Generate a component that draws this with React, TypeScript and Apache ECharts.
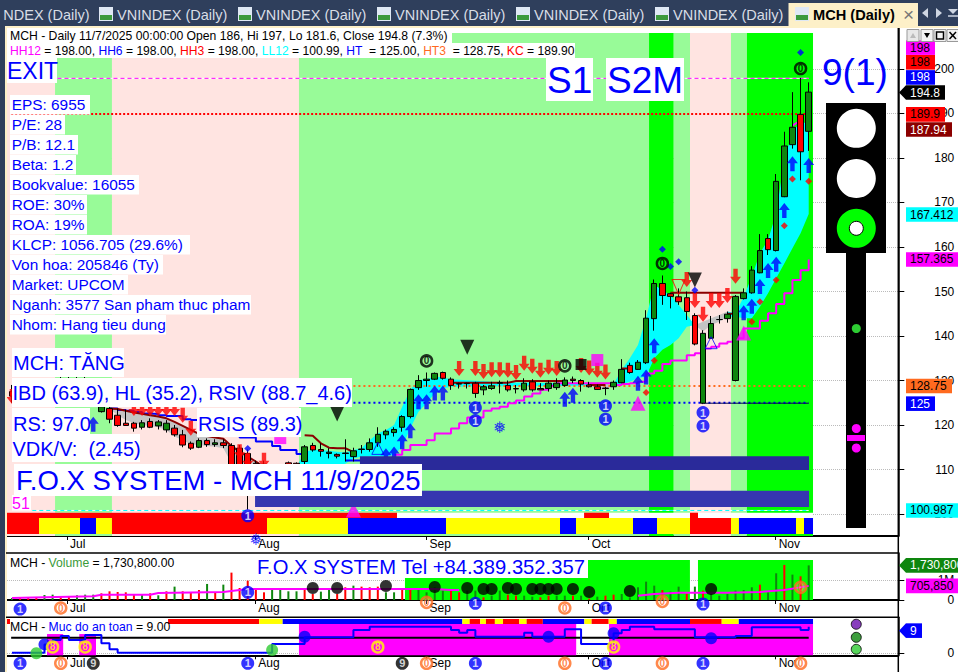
import React, { useEffect, useRef } from "react";
import * as echarts from "echarts";

const FONT = '"Liberation Sans", Arial, sans-serif';
const LIME = "#00ff00", PALE = "#98fb98", PINK = "#ffe4e1", RED = "#ff0000", BLUE = "#0000ff", YEL = "#ffff00", MAG = "#ff00ff";
const CYAN = "#00ffff", GREEN = "#0e860e", BROWN = "#8b0000", ORANGE = "#ff6a1f";

const X_MIN = -0.61, X_MAX = 109.02, LAST = 98.53;
const monthTicks = [6.77, 29.93, 51, 70.94, 93.94];
const monthLabels = ["Jul", "Aug", "Sep", "Oct", "Nov"];
const priceTicks = [100, 110, 120, 130, 140, 150, 160, 170, 180, 190, 200];

// open, close, low, high
const candles: number[][] = [
  [127.5, 126.5, 125, 129], [127, 128, 126, 129.5], [128, 127, 125.5, 129.5], [127, 128.2, 126, 130], [128, 127.5, 126, 130],
  [127.5, 128.5, 126.5, 130.5], [128.5, 127.8, 126.5, 131], [127.8, 128.5, 127, 131], [128.5, 127.5, 126, 130.8], [127.5, 128, 126, 131],
  [126, 127, 124.5, 129], [123, 124.1, 122.8, 126], [123.7, 121.3, 120.4, 124.5], [122.2, 119.9, 119.6, 123.7], [120.4, 119.9, 119.8, 123.4],
  [120.4, 119.3, 118.5, 120.7], [119.5, 120.5, 119, 121.1], [120.8, 119.5, 119.3, 121.5], [119.8, 120.7, 119, 121.1], [118.9, 120.4, 118.3, 121.1],
  [119.3, 117.8, 117.4, 120], [117.8, 115.5, 115, 118.9], [115.9, 114.8, 114.4, 116.3], [115, 116.5, 114.8, 117], [116.5, 115.6, 115.1, 117],
  [115.6, 116, 115.1, 116.8], [116, 115.4, 114.8, 116.8], [115.4, 110.9, 109.8, 115.9], [114.8, 109.5, 108.5, 115.5], [113.6, 106.9, 100.99, 114.5],
  [111.4, 109.1, 108, 112], [111.2, 108.4, 107.5, 112], [108.4, 110.3, 107.5, 111], [110.6, 109.1, 108.5, 111], [111.5, 110.3, 109.5, 111.8],
  [111.4, 110.6, 109, 111.6], [111.8, 115.1, 111.2, 115.5], [115.4, 114.4, 114, 116], [114.5, 114.1, 112.9, 115.9], [113.6, 113.9, 112.5, 114.8],
  [113.4, 113, 112.5, 113.6], [113.7, 113.6, 111.8, 116.8], [112.9, 114.2, 111.8, 114.9], [114.5, 114.6, 113.6, 115.5], [114.5, 116, 114, 117],
  [116, 117.9, 115.1, 119.5], [117.8, 118.6, 116.8, 119], [118.3, 119, 117.4, 119.5], [119.5, 121.9, 118.5, 122.2], [121.9, 128, 121.5, 128.2],
  [128.4, 130, 127.9, 131.2], [130, 130.3, 128.6, 131.8], [130.3, 131.6, 130.1, 131.8], [131.8, 130.5, 130.2, 132], [130.3, 128.9, 127.9, 130.7],
  [129.3, 129.2, 128.2, 129.5], [129.4, 129.3, 128.2, 129.5], [129.4, 127.1, 126.1, 129.7], [127.9, 128.6, 126.7, 129], [128.2, 128.8, 127.9, 129.7],
  [129.4, 129.5, 127.1, 130], [128.9, 127.9, 127.5, 130], [128.2, 128.1, 127.1, 129], [127.9, 129.4, 127.5, 130.5], [129.7, 127.9, 127.5, 130.3],
  [128.2, 127.9, 127.9, 129.4], [128.2, 129.4, 127.5, 130], [128.4, 129.4, 127.9, 130.5], [128.9, 130.1, 128.6, 130.7], [130.3, 130, 129.4, 130.9],
  [130, 129.2, 127.5, 130.3], [129, 128.6, 128.4, 129.7], [128.6, 128, 127.9, 129.1], [128.3, 128.2, 126.7, 128.6], [128.6, 129.6, 127.9, 130],
  [129.5, 132.5, 129.4, 134.8], [133.4, 131.8, 131.5, 134], [132.5, 134.1, 132.4, 134.6], [134, 144, 133.7, 145.8], [143.9, 151.8, 141.2, 152.7],
  [151.8, 149.1, 147, 153.6], [149.5, 148.9, 146.2, 149.7], [148.8, 147.7, 147, 150.7], [148.6, 145.5, 143.6, 150], [144.6, 138.2, 137.9, 145.1],
  [124.9, 140.6, 124.7, 141.3], [139.5, 142.8, 139.4, 144.5], [143.7, 143.7, 142.8, 144.7], [143.9, 144.9, 143, 145.5], [130, 148.9, 129.8, 149.2],
  [148.4, 149.7, 148.2, 150.7], [149.7, 154.8, 149.5, 155.7], [154.2, 159.2, 154.1, 162.9], [161.9, 159.4, 158.2, 162.9], [159.2, 174.75, 159, 176.4],
  [171.3, 182.7, 171.2, 185.9], [183, 186.9, 182.1, 194.8], [189.8, 181.4, 175, 198], [186, 194.8, 181.6, 197],
];

// start, end, colour of the price pane's background
const priceBands: [number, number, string][] = [
  [X_MIN, 5.3, PINK], [5.3, 12.3, PALE], [12.3, 35.3, PINK], [35.3, 78.36, PALE], [78.36, 81.4, LIME],
  [81.4, 83.4, PALE], [83.4, 88.44, PINK], [88.44, 90.4, PALE], [90.4, LAST, LIME],
];
const stateRow: [number, number, string][] = [
  [X_MIN, 3.33, RED], [3.33, 8.37, YEL], [8.37, 10.34, BLUE], [10.34, 12.3, YEL], [12.3, 31.37, RED], [31.37, 41.33, YEL], [41.33, 53.39, BLUE],
  [53.39, 67.41, YEL], [67.41, 69.38, BLUE], [69.38, 76.39, YEL], [76.39, 79.34, BLUE], [79.34, 83.4, YEL], [83.4, 88.44, RED], [88.44, 89.42, YEL],
  [89.42, 96.44, BLUE], [96.44, 97.42, YEL], [97.42, LAST, BLUE],
];
const redRow: [number, number][] = [[X_MIN, 47.36], [70.37, 73.44], [83.4, 84.38]];
const lowBars: [number, number, number, number, string][] = [
  [42.8, 98.04, 109.9, 113, "#2a2a9a"], [29.9, 98.04, 101.6, 105.2, "#3636b0"],
];

// i, upper, lower
const cloudCyan: number[][][] = [
  [[35, 110.5, 110.5], [36, 114, 110], [37, 114.4, 110.3], [38, 114.4, 110.5], [39, 114.2, 110.8], [40, 114, 111], [41, 113.8, 111.3], [42, 114.4, 112.5], [43, 114.8, 112.9], [44, 116.6, 112.9], [45, 118.1, 112.9], [46, 118.9, 112.9], [47, 120, 113.3], [48, 124.1, 115.1], [49, 127.9, 119.3], [50, 130.1, 123], [51, 130.3, 124.9], [52, 130.9, 127.1], [53, 130.7, 128.2], [54, 130.3, 128.6], [60, 129.6, 128.7], [71, 129.3, 128.8]],
  [[74, 129.2, 128.6], [75, 132.4, 129.1], [76, 135, 129.7], [77, 138, 130.5], [78, 144, 130.9], [79, 151.5, 135], [80, 150.3, 136.9], [81, 149.2, 138], [82, 147, 139.5], [83, 144.7, 142.1], [84, 142.5, 142.5]],
  [[88, 145.5, 144.3], [89, 145.1, 144.3], [90, 148.8, 144], [91, 153.3, 144], [92, 158.6, 146.6], [93, 161.6, 149.6], [94, 167.6, 152.95], [95, 179.5, 156.3], [96, 186, 159.7], [97, 187.9, 163.1], [98, 187.94, 167.4]],
];
const cloudGray: number[][][] = [
  [[12, 123.7, 123.7], [13, 123.6, 122.2], [14, 123.2, 121.1], [15, 122.8, 120.4], [16, 122.5, 120], [17, 122.2, 119.8], [18, 121.9, 119.5], [19, 121.5, 118.9], [20, 120.7, 117.4], [21, 119.8, 116.6], [22, 118.9, 115.7], [23, 118, 115.5], [24, 117.5, 115.3], [25, 117.2, 115.1], [26, 116.9, 114.8], [27, 115.3, 111.4], [28, 114, 110.3], [29, 112.9, 109.1], [30, 111.8, 108.4], [31, 110.6, 107.6], [32, 109.5, 106.9]],
  [[71, 129.3, 128.8], [72, 129, 128], [73, 129, 128.1], [74, 129.2, 128.6]],
  [[84, 142.5, 142.5], [85, 143.2, 141], [86, 144, 142.5], [87, 144.7, 143.2], [88, 145.5, 144.3]],
];
const stopSegments: number[][][] = [
  [[12, 123.7], [13, 123.6], [14, 123.2], [15, 122.8], [16, 122.5], [17, 122.2], [18, 121.9], [19, 121.5], [20, 120.7], [21, 119.8], [22, 118.9], [23, 118], [24, 117.5], [25, 117.2], [26, 116.9], [27, 115.3], [28, 114], [29, 112.9], [30, 111.8], [31, 110.6], [32, 109.5]],
  [[36, 117.7], [37, 117.6], [38, 115.9], [39, 114.9], [40, 114.8], [41, 114.8], [42, 113.9]],
  [[54, 129.5], [61, 129.5], [62, 129.9], [68, 129.9]],
  [[71, 129], [73, 129]], [[75, 132.7], [76, 132.7]], [[81, 149.7], [90, 149.7]], [[88, 145], [89, 145]],
];
const blueSegments: number[][][] = [
  [[12, 123.7], [13, 123.4], [14, 123.2], [15, 122.9], [16, 122.6], [17, 122.5], [18, 122.2], [19, 122], [20, 122], [21, 121.3], [22, 121.1], [27, 121.1], [28, 117.2], [29, 117.2], [30, 116.3], [31, 116.3], [32, 115.3], [33, 114.4], [34, 114.4], [35, 113.5], [36, 113.5]],
  [[41, 112], [43, 112]],
];
const riseLine: number[][] = [
  [47, 113.3], [48, 114.4], [49, 115.5], [50, 115.5], [51, 116.6], [52, 118.1], [53, 118.1], [54, 119.2], [55, 120.4], [56, 121.7], [57, 121.7], [58, 123.2], [59, 123.7], [60, 124.1], [61, 124.9], [62, 125.5], [63, 126.4], [64, 127.1], [65, 127.9], [66, 128.8], [67, 129.4], [73, 129.4], [74, 129], [75, 129.2], [76, 129.4], [77, 129.7], [78, 131.6], [79, 132.2], [80, 133.7], [81, 134.5], [82, 134.5], [83, 135.7], [84, 136.1], [85, 137.2], [86, 137.6], [87, 138.3], [88, 138.7], [89, 139.5], [90, 141.7], [91, 141.7], [92, 143.4], [93, 145.1], [94, 147.2], [95, 149.6], [96, 152.6], [97, 154.8], [98, 157.2],
];
const kcStub: number[][] = [[96, 187.3], [97, 188.4]];

// i0, i1, value, colour, width, dash
const levels: [number, number, number, string, number, number[] | null][] = [
  [5.6, 98, 197.9, "#ffffff", 1, null], [5.6, 98, 197.9, MAG, 1, [4, 3]],
  [-0.1, 98, 189.9, RED, 2, [2, 2]],
  [42, 98, 128.75, ORANGE, 2, [2, 3]], [42, 98, 125, BLUE, 2, [2, 3]], [85.3, 98, 124.9, "#000050", 1, null],
  [2.5, 98, 100.8, "#ffffff", 1, null], [2.5, 98, 100.8, CYAN, 1, [4, 3]],
];

const upArrows = [[10, 120.15], [46, 113.1], [47, 113.5], [48, 116.25], [49, 118.7], [50, 125.2], [51, 125.2], [52, 127.2], [53, 127.2], [68, 125.8], [69, 126.7], [77, 129.4], [78, 130.8], [79, 137.8], [90, 145.2], [91, 146.7], [92, 151.1], [93, 154.7], [94, 156.1], [95, 168.2], [96, 178.7], [98, 178.3]];
const downArrows = [[0, 126.4], [15, 123.7], [16, 123.7], [17, 123.7], [18, 123.7], [19, 123.7], [20, 123.7], [21, 122.2], [22, 119.3], [28, 114], [29, 112.1], [31, 112.1], [55, 132.7], [57, 132.7], [58, 132], [59, 132.4], [60, 132.4], [61, 132.3], [62, 131.8], [63, 133.9], [64, 133.2], [65, 132.3], [66, 133], [67, 132.7], [70, 133.4], [71, 132.8], [72, 132.3], [73, 131.9], [83, 152.7], [84, 148], [85, 144.9], [86, 148], [87, 148], [88, 149.1], [89, 153.4]];
const redDiamonds = [[78, 127.3], [79, 134.5], [91, 143.2], [92, 147.7], [94, 152.6], [95, 164.8], [96, 175.3], [98, 174.8]];
const blueDiamonds = [[29, 114.7], [80, 159.5], [81, 155.6], [82, 156.7], [84, 150.3], [97, 203.7]];
const zeroRings = [[51, 134.4], [68, 133.3], [80, 156.3], [97, 200.1]];
const oneDots = [[29, 99.6], [57, 123.9], [57, 121], [73, 124.3], [73, 121.3], [85, 122.8], [85, 119.8]];
const blackDown = [[40, 122.5], [56, 137.5], [84, 152.6]];
const hollowDown = [[82, 151]];
const hollowUp = [[45, 114.75], [86, 138.5]];
const magentaUp = [[42, 100.9], [77, 124.9], [90, 140.7]];
const magentaSquares = [[72, 134.6]];
const magentaDash = [[33, 116.5]];
const blackSquares = [[70, 133.6]];
const snowflakes = [[30, 94.2], [60, 119.5]];

// thousands of shares
const volume = [100, 134, 150, 100, 250, 267, 200, 200, 234, 267, 267, 334, 434, 400, 384, 300, 250, 334, 234, 434, 668, 434, 367, 501, 802, 367, 768, 1369, 601, 969, 551, 384, 601, 601, 434, 434, 601, 300, 418, 551, 300, 635, 718, 668, 635, 668, 384, 384, 551, 551, 551, 384, 635, 468, 468, 384, 468, 468, 134, 217, 468, 267, 217, 217, 167, 134, 217, 217, 217, 217, 217, 67, 167, 217, 267, 300, 134, 635, 918, 718, 501, 418, 668, 300, 668, 468, 300, 217, 300, 468, 501, 635, 768, 384, 1336, 1754, 1269, 1186, 1731];
const volumeSides = "grrrgg" + "rrggg" + "rrrrrgrgrgrrrgrgrrrrrgg" + "ggrrggrrgrrrggrrggg" + "grrgg" + "rggrrggrrggrgrgrr" + "ggggg" + "rggrgrggggggrggrgrg";
const volumeAverage = [[0, 100], [4, 134], [10, 184], [11, 267], [17, 267], [18, 350], [26, 400], [28, 500], [29, 550], [40, 550], [42, 550], [46, 550], [49, 550], [50, 550], [52, 550], [54, 500], [55, 500]];
const volumeAverage2 = [[77, 217], [79, 300], [82, 367], [84, 367], [88, 367], [92, 400], [95, 500], [98, 706]];
const volumeBands: [number, number][] = [[48.34, 83.39], [84.38, LAST]];
const volumeBalls = [37, 40, 46, 52, 56, 58, 59, 61, 62, 64, 65, 66, 67, 69, 71, 76, 86];
const volumeBallY = [600, 600, 700, 650, 600, 550, 550, 600, 550, 550, 550, 550, 550, 550, 400, 450, 550];
const volumeOnes = [[1, -451], [29, 384], [57, -167], [73, -400], [85, -200]];
const volumeZeros = [[6, -400], [51, -117], [68, -400], [80, -67], [97, 634]];

const safetyLine = [0.2, 0.2, 0.2, 0.2, 3, 4.5, 5.85, 4.5, 4.5, 6.19, 6.19, 3.4, 1.35, 0.2, 0.2, 0.2, 0.2, 0.2, 0.2, 0.2, 0.2, 0.2, 0.2, 0.2, 0.2, 0.2, 0.2, 0.2, 0.2, 0.2, 0.2, 0.2, 3.15, 3.15, 3.15, 3.15, 5.4, 5.4, 5.4, 5.4, 5.4, 5.4, 7.9, 7.9, 9, 9, 9, 9, 9, 9, 9, 9, 9, 9, 7.87, 6.97, 7.87, 5.62, 5.62, 5.62, 5.62, 5.62, 5.62, 6.97, 5.62, 5.62, 5.62, 5.62, 8.1, 8.1, 3.15, 3.15, 3.15, 3.15, 6.75, 7.87, 9, 9, 9, 8.1, 8.1, 8.1, 8.1, 8.1, 5.4, 5.4, 5.4, 5.4, 5.4, 5.85, 5.85, 8.77, 8.77, 8.77, 8.77, 8.77, 8.77, 7.87, 9];
const safetyRef = [[-0.1, 5.29], [98, 5.29]];
const safetyBands: [number, number, number][] = [[4.31, 6.3, 6.5], [8.28, 10.34, 6.5], [35.3, 69.4, 9.9], [73.44, LAST, 9.9]];
const safetyRow: [number, number, string][] = [
  [-0.65, -0.24, RED], [19.2, 30.4, RED], [30.4, 33.3, YEL], [33.3, 55.4, BLUE], [55.4, 56.3, YEL], [56.3, 57.6, RED], [57.6, 58.3, YEL], [58.3, 59.4, RED], [59.4, 60.4, YEL], [60.4, 62.4, RED],
  [62.4, 63.3, YEL], [63.3, 65.3, RED], [65.3, 70.4, BLUE], [70.4, 71.3, YEL], [71.3, 73.4, RED], [73.4, 74.4, YEL], [74.4, 83.4, BLUE], [83.4, 87.3, RED], [87.3, 89.4, YEL], [89.4, LAST, BLUE],
];
const safetyBlue = [[4, 3], [36, 5.6], [66, 5.6], [74, 6.75], [86, 5.06]];
const safetyGreen = [[3, 0], [32, 1.1]];
const safetyEights = [[5, 2.14], [9, 2.14], [45, 2.14], [74, 2.14]];
const safetyOnes = [[1, -3.37], [29, -3.37], [57, -3.37], [73, -3.37], [85, -3.37]];
const safetyZeros = [[6, -3.37], [51, -3.37], [68, -3.37], [80, -3.37], [97, -3.37]];
const safetyNines = [[10, -3.37], [48, -3.37]];
const sideDots: [number, number, string][] = [[103.85, 9.8, "#6a0dad"], [103.85, 5.4, "#0e860e"], [103.85, 1.35, "#2ecc33"]];

// anchor value on the axis, text, background, text colour, width, pointer
const priceTags: [number, string, string, string, number, boolean][] = [
  [204.8, "198", MAG, "#000000", 29, false], [201.5, "198", RED, "#000000", 29, false], [198.1, "198", BLUE, "#ffffff", 29, false],
  [194.7, "194.8", "#000000", "#ffffff", 39, true], [189.8, "189.9", RED, "#000000", 39, false], [186.4, "187.94", BROWN, "#ffffff", 46, false],
  [167.3, "167.412", CYAN, "#000000", 52, false], [157.2, "157.365", MAG, "#000000", 52, false], [128.76, "128.75", ORANGE, "#000000", 46, false],
  [124.8, "125", BLUE, "#ffffff", 29, false], [100.8, "100.987", CYAN, "#000000", 52, false],
];
const volumeTags: [number, string, string, string, number, boolean][] = [
  [1730, "1,730,800", GREEN, "#ffffff", 52, true], [706, "705,850", MAG, "#000000", 52, false],
];
const safetyTags: [number, string, string, string, number, boolean][] = [[7.65, "9", BLUE, "#ffffff", 16, true]];

const fundamentals = ["EPS: 6955", "P/E: 28", "P/B: 12.1", "Beta: 1.2", "Bookvalue: 16055", "ROE: 30%", "ROA: 19%", "KLCP: 1056.705 (29.6%)", "Von hoa: 205846 (Ty)", "Market: UPCOM", "Nganh: 3577 San pham thuc pham", "Nhom: Hang tieu dung"];
const fundamentalWidths = [80, 55, 68, 66, 129, 77, 77, 180, 153, 118, 241, 156];
const tabStarts = [117, 256, 395, 534, 673];

const rectSeries = (rows: number[][], colors: string[] | string, g: number, z: number) => ({
  type: "custom", xAxisIndex: g, yAxisIndex: g, z, silent: true, data: rows,
  renderItem: (p: any, api: any) => {
    const r = rows[p.dataIndex];
    const a = api.coord([r[0], r[2]]), b = api.coord([r[1], r[3]]);
    return { type: "rect", shape: { x: a[0], y: b[1], width: b[0] - a[0], height: a[1] - b[1] }, style: { fill: typeof colors === "string" ? colors : colors[p.dataIndex] } };
  },
});
const polySeries = (segs: number[][][], fill: string, z: number) => ({
  type: "custom", xAxisIndex: 0, yAxisIndex: 0, z, silent: true, data: segs.map((_, i) => [i]),
  renderItem: (p: any, api: any) => {
    const s = segs[p.dataIndex];
    const top = s.map((q) => api.coord([q[0], q[1]]));
    const bottom = s.slice().reverse().map((q) => api.coord([q[0], q[2]]));
    return { type: "polygon", shape: { points: top.concat(bottom) }, style: { fill } };
  },
});
const lineSeries = (data: any[], color: string, width: number, g: number, z: number, extra: any = {}) => ({
  type: "line", xAxisIndex: g, yAxisIndex: g, data, z, silent: true, symbol: "none", connectNulls: false,
  lineStyle: { color, width, ...extra.ls }, ...extra.s,
});
const joinSegs = (segs: number[][][]) => segs.flatMap((s) => [...s, [s[s.length - 1][0], null]]);
const marks = (data: any[], symbol: string, size: any, fill: string, g = 0, extra: any = {}) => ({
  type: "scatter", xAxisIndex: g, yAxisIndex: g, data, symbol, symbolSize: size, z: 6, clip: false, silent: true,
  itemStyle: { color: fill, ...extra.item }, ...extra.s,
});
const glyph = (t: string, color: string, size = 11) => ({ show: true, position: "inside", formatter: t, color, fontSize: size, fontWeight: "bold", fontFamily: FONT });
const ring = (data: any[], stroke: string, fillC: string, t: string, textC: string, g = 0, size = 11) =>
  marks(data, "circle", size, fillC, g, { item: { borderColor: stroke, borderWidth: 2.5 }, s: { label: glyph(t, textC, 10) } });
const oneDot = (data: any[], g = 0) => marks(data, "circle", 13, BLUE, g, { s: { label: glyph("1", "#ffffff", 11) } });
const tagSeries = (tags: any[], g: number) => ({
  type: "custom", xAxisIndex: g, yAxisIndex: g, z: 20, silent: true, data: tags.map((t) => [0, t[0]]),
  renderItem: (p: any, api: any) => {
    const [v, text, bg, fg, w, pointer] = tags[p.dataIndex];
    const y = api.coord([0, v])[1];
    const x0 = 906, h = 14.6;
    const children: any[] = [{ type: "rect", shape: { x: x0, y: y - h / 2, width: w, height: h }, style: { fill: bg } }];
    if (pointer) children.push({ type: "polygon", shape: { points: [[899, y], [x0, y - h / 2], [x0, y + h / 2]] }, style: { fill: bg } });
    children.push({ type: "text", style: { x: x0 + 4, y, text, fill: fg, font: `12px ${FONT}`, verticalAlign: "middle", align: "left" } });
    return { type: "group", children };
  },
});
const xAxis = (grid: number, showSplit: boolean) => ({
  type: "value", gridIndex: grid, min: X_MIN, max: X_MAX, position: "bottom",
  axisLine: { show: true, onZero: false, lineStyle: { color: "#000", width: 2 } },
  axisTick: { show: true, length: 4, customValues: monthTicks, lineStyle: { color: "#000" } },
  axisLabel: { show: true, customValues: monthTicks, align: "left", margin: 2, padding: [0, 0, 0, 3], color: "#000", fontSize: 12, fontFamily: FONT,
    formatter: (v: number) => monthLabels[monthTicks.indexOf(v)] ?? "" },
  splitLine: { show: showSplit, lineStyle: { color: "#aaa", type: "dotted" } },
});
const yAxis = (grid: number, min: number, max: number, ticks: number[], fmt?: (v: number) => string) => ({
  type: "value", gridIndex: grid, min, max, position: "right", scale: true,
  axisLine: { show: true, onZero: false, lineStyle: { color: "#000", width: 1.5 } },
  axisTick: { show: true, length: 6, customValues: ticks, lineStyle: { color: "#000" } },
  axisLabel: { show: true, customValues: ticks, align: "right", margin: 56, color: "#000", fontSize: 12, fontFamily: FONT, formatter: fmt ?? ((v: number) => String(v)) },
  splitLine: { show: true, lineStyle: { color: "#bbb", type: "dotted" } },
});

const txt = (x: number, y: number, text: string, font: string, fill = BLUE, extra: any = {}) => ({
  type: "text", z: 31, silent: true, style: { x, y, text, fill, font: `${font} ${FONT}`, verticalAlign: "middle", align: "left", ...extra },
});
const box = (x: number, y: number, w: number, h: number, fill = "#ffffff", z = 30) => ({ type: "rect", z, silent: true, shape: { x, y, width: w, height: h }, style: { fill } });
const seg = (x1: number, y1: number, x2: number, y2: number, stroke = "#000", lineWidth = 1.5, z = 40) => ({ type: "line", z, silent: true, shape: { x1, y1, x2, y2 }, style: { stroke, lineWidth } });
const poly = (points: number[][], fill: string) => ({ type: "polygon", z: 41, silent: true, shape: { points }, style: { fill } });
const disc = (cx: number, cy: number, r: number, fill: string, stroke?: string) => ({ type: "circle", z: 32, silent: true, shape: { cx, cy, r }, style: { fill, stroke, lineWidth: stroke ? 1 : 0 } });

function buildGraphic() {
  const els: any[] = [
    box(0, 0, 958, 26, "#2f3f5c", 40), box(0, 26, 5, 646, "#2f3f5c", 40), box(5, 26, 953, 2, "#fdf0c8", 40), box(5, 26, 2, 646, "#fdf0c8", 40),
    txt(3.3, 14.5, "NDEX (Daily)", "14.5px", "#d8dde6", { }),
  ];
  els[els.length - 1].z = 41;
  tabStarts.forEach((x) => {
    const t = txt(x, 14.5, "VNINDEX (Daily)", "14.5px", "#d8dde6"); t.z = 41;
    els.push(box(x - 18, 7, 14, 14, "#dfe8f4", 41), box(x - 17, 15, 12, 5, "#3c9a3c", 41), t);
  });
  const active = txt(813, 14.5, "MCH (Daily)", "bold 14.6px", "#000000"); active.z = 42;
  const close = txt(903, 14, "×", "19px", "#777777"); close.z = 42;
  els.push(box(788.5, 3, 129.5, 23, "#fdf0c8", 41), box(795, 7, 14, 14, "#dfe8f4", 42), box(796, 15, 12, 5, "#3c9a3c", 42), active, close);
  els.push(poly([[928, 8], [928, 18], [922, 13]], "#cfd6e2"), poly([[936, 8], [936, 18], [942, 13]], "#cfd6e2"), poly([[948, 9], [958, 9], [953, 14]], "#cfd6e2"), seg(948, 16, 958, 16, "#cfd6e2", 1.5, 41));

  els.push(box(7, 28, 891, 5, "#ffffff", 29));
  els.push(box(7, 33, 445, 10), box(7, 43, 568, 15));
  els.push(txt(10, 36, "MCH - Daily 11/7/2025 00:00:00 Open 186, Hi 197, Lo 181.6, Close 194.8 (7.3%)", "12.2px", "#000000"));
  els.push(txt(10, 51, "{m|HH12} = 198.00, {b|HH6} = 198.00, {r|HH3} = 198.00, {c|LL12} = 100.99, {b|HT}  = 125.00, {o|HT3}  = 128.75, {r|KC} = 189.90", "12.1px", "#000000", {
    rich: { m: { fill: MAG }, b: { fill: BLUE }, r: { fill: RED }, c: { fill: CYAN }, o: { fill: ORANGE } },
  }));

  els.push(box(7, 58, 50, 25), txt(7, 71, "EXIT", "23px"));
  fundamentals.forEach((t, i) => {
    els.push(box(10, 95 + 20 * i, fundamentalWidths[i], 19.5), txt(11.7, 104.6 + 20 * i, t, "15.4px"));
  });
  els.push(box(12, 348, 112, 29), txt(13, 363, "MCH: TĂNG", "20px"));
  els.push(box(12, 378, 340, 29), txt(12.5, 393, "IBD (63.9), HL (35.2), RSIV (88.7_4.6)", "20px"));
  els.push(box(12, 408, 78, 29), txt(13, 424, "RS: 97.0", "20px"));
  els.push(box(197, 408, 104, 29), txt(198, 424, "RSIS (89.3)", "20px"));
  els.push(box(12, 434, 128, 28), txt(12.5, 449, "VDK/V:  (2.45)", "20px"));
  els.push(box(14, 464, 408, 32), txt(16, 480.5, "F.O.X SYSTEM - MCH 11/9/2025", "27.5px"));
  els.push(box(12, 495, 19, 15.5), txt(12, 503, "51", "16px", MAG));
  els.push(box(546, 58, 47, 43), txt(547, 80.5, "S1", "37px"));
  els.push(box(606, 58, 78, 43), txt(607, 80.5, "S2M", "37px"));
  els.push(txt(822, 72, "9(1)", "37px"));

  els.push(box(826, 103, 60, 150, "#000000", 30), box(846, 253, 20, 275, "#000000", 30));
  els.push(disc(856.3, 128.3, 19.5, "#ffffff"), disc(856.3, 178.5, 19.5, "#ffffff"), disc(856.3, 228.3, 19.5, LIME), disc(856.3, 228.3, 7, "#ffffff", "#000000"));
  els.push(disc(856.3, 328.5, 4.5, "#2ecc33"), disc(856.3, 428.5, 4.5, MAG), disc(856.3, 448, 4.5, MAG), box(847, 435, 18, 6, MAG, 32));

  els.push(box(255, 556, 333, 22), txt(257, 567, "F.O.X SYSTEM Tel +84.389.352.357", "20.2px"));
  els.push(txt(10, 563, "MCH - {g|Volume} = 1,730,800.00", "12.2px", "#000000", { rich: { g: { fill: "#3a9a3a" } } }));
  els.push(txt(10, 627, "MCH - {b|Muc do an toan} = 9.00", "12.2px", "#000000", { rich: { b: { fill: BLUE } } }));

  els.push(seg(6, 553, 898, 553), seg(6, 617.3, 898, 617.3), seg(898.3, 28, 898.3, 672));
  [[907, "#e8e8e8"], [921, "#f2f2f2"], [934, "#f2f2f2"], [947, "#f2f2f2"]].forEach(([x, c]: any) => {
    els.push({ type: "rect", z: 40, silent: true, shape: { x, y: 29.5, width: 12, height: 12 }, style: { fill: c, stroke: "#999", lineWidth: 1 } });
  });
  els.push(poly([[910, 38], [916, 38], [913, 33]], "#bbbbbb"), poly([[924, 33], [930, 33], [927, 38]], "#000000"));
  els.push({ type: "rect", z: 41, silent: true, shape: { x: 936.5, y: 32, width: 7, height: 7 }, style: { fill: "none", stroke: "#000", lineWidth: 1.5 } });
  els.push(seg(949.5, 32, 956, 39, "#000", 1.5, 41), seg(956, 32, 949.5, 39, "#000", 1.5, 41));
  return els;
}

const UP_ARROW = "path://M5 0L10 7L7 7L7 15L3 15L3 7L0 7Z";
const DOWN_ARROW = "path://M3 0L7 0L7 8L10 8L5 15L0 8L3 8Z";

function buildOption() {
  const series: any[] = [
    rectSeries(priceBands.map((b) => [b[0], b[1], 95.06, 208.09]), priceBands.map((b) => b[2]), 0, 1),
    rectSeries([[X_MIN, LAST, 99.1, 100.3]], "#ffffff", 0, 2),
    rectSeries(redRow.map((b) => [b[0], b[1], 99.1, 100.3]), RED, 0, 2),
    rectSeries(stateRow.map((b) => [b[0], b[1], 95.51, 99.1]), stateRow.map((b) => b[2]), 0, 2),
    lineSeries(joinSegs(blueSegments), BLUE, 2, 0, 3, { s: { step: "end" } }),
    polySeries(cloudGray, "#c4c4c4", 3),
    polySeries(cloudCyan, CYAN, 3),
    ...levels.map((l) => lineSeries([[l[0], l[2]], [l[1], l[2]]], l[3], l[4], 0, 4, { ls: l[5] ? { type: l[5] } : {} })),
    lineSeries(riseLine, MAG, 2, 0, 4, { s: { step: "end" } }),
    lineSeries(kcStub, MAG, 2, 0, 4),
    lineSeries(joinSegs(stopSegments), BROWN, 2, 0, 5),
    {
      type: "candlestick", xAxisIndex: 0, yAxisIndex: 0, z: 5, silent: true, barWidth: 6, clip: false,
      data: candles.map((c, i) => [i, c[0], c[1], c[2], c[3]]),
      itemStyle: { color: GREEN, color0: RED, borderColor: "#000", borderColor0: "#000", borderWidth: 1 },
    },
    marks(magentaUp, "triangle", [15, 15], MAG),
    marks(upArrows, UP_ARROW, [11, 15], BLUE),
    marks(downArrows, DOWN_ARROW, [11, 15], RED),
    marks(redDiamonds, "diamond", 7, RED),
    marks(blueDiamonds, "diamond", 7, BLUE),
    ring(zeroRings, "#000", "rgba(0,0,0,0)", "0", "#000"),
    oneDot(oneDots),
    marks(blackDown, "triangle", [14, 15], "#000", 0, { s: { symbolRotate: 180 } }),
    marks(hollowDown, "triangle", [13, 15], "rgba(0,0,0,0)", 0, { s: { symbolRotate: 180 }, item: { borderColor: RED, borderWidth: 1 } }),
    marks(hollowUp, "triangle", [12, 12], "rgba(0,0,0,0)", 0, { item: { borderColor: BLUE, borderWidth: 1 } }),
    marks(magentaSquares, "rect", 12, MAG),
    marks(magentaDash, "rect", [12, 7], MAG),
    marks(blackSquares, "rect", 11, "#000"),
    { ...marks(snowflakes, "circle", 1, "rgba(0,0,0,0)", 0, { s: { label: { show: true, position: "inside", formatter: "❅", color: BLUE, fontSize: 16, fontFamily: "DejaVu Sans" } } }) },
    rectSeries(lowBars.map((b) => [b[0], b[1], b[2], b[3]]), lowBars.map((b) => b[4]), 0, 7),
    tagSeries(priceTags, 0),

    rectSeries(volumeBands.map((b) => [b[0], b[1], 0, 2000]), LIME, 1, 1),
    {
      type: "bar", xAxisIndex: 1, yAxisIndex: 1, barWidth: 2, z: 3, silent: true,
      data: volume.map((v, i) => ({ value: [i, v], itemStyle: { color: volumeSides[i] === "g" ? GREEN : RED } })),
    },
    lineSeries(volumeAverage, MAG, 2, 1, 4),
    lineSeries(volumeAverage2, MAG, 2, 1, 4),
    marks(volumeBalls.map((x, i) => [x, volumeBallY[i]]), "circle", 12, "#000", 1),
    oneDot(volumeOnes, 1),
    ring(volumeZeros, ORANGE, "rgba(255,255,255,0.25)", "0", ORANGE, 1),
    tagSeries(volumeTags, 1),

    rectSeries(safetyBands.map((b) => [b[0], b[1], -0.675, b[2]]), MAG, 2, 1),
    rectSeries(safetyRow.map((b) => [b[0], b[1], 9.9, 11.6]), safetyRow.map((b) => b[2]), 2, 2),
    lineSeries(safetyRef, "#000", 2, 2, 3),
    lineSeries(safetyLine.map((v, i) => [i, v]), BLUE, 2, 2, 4, { s: { step: "end" } }),
    marks(safetyBlue, "circle", 12, BLUE, 2),
    marks(safetyGreen, "circle", 12, "#2ecc33", 2),
    ring(safetyEights, YEL, MAG, "8", YEL, 2),
    oneDot(safetyOnes, 2),
    ring(safetyZeros, ORANGE, "#fff", "0", ORANGE, 2),
    marks(safetyNines, "circle", 13, "#000", 2, { s: { label: glyph("9", "#fff", 11) } }),
    ...sideDots.map((d) => marks([[d[0], d[1]]], "circle", 10, d[2], 2, { item: { borderColor: "#000", borderWidth: 1 } })),
    tagSeries(safetyTags, 2),
  ];
  return {
    animation: false,
    backgroundColor: "#ffffff",
    textStyle: { fontFamily: FONT },
    grid: [
      { left: 7, right: 59.7, top: 28, height: 508 },
      { left: 7, right: 59.7, top: 553, height: 47 },
      { left: 7, right: 59.7, top: 617.3, height: 38 },
    ],
    xAxis: [xAxis(0, true), xAxis(1, false), xAxis(2, false)],
    yAxis: [
      yAxis(0, 95.06, 209.21, priceTicks),
      yAxis(1, 0, 2350, [0, 1000], (v) => (v === 0 ? "0" : "1M")),
      yAxis(2, -0.675, 12.15, [0]),
    ],
    series,
    graphic: { elements: buildGraphic() },
  };
}

export default function App() {
  const ref = useRef<HTMLDivElement>(null);
  useEffect(() => {
    document.body.style.margin = "0";
    const chart = echarts.init(ref.current!, undefined, { renderer: "svg" });
    chart.setOption(buildOption());
    return () => chart.dispose();
  }, []);
  return <div ref={ref} style={{ position: "absolute", left: 0, top: 0, width: 958, height: 672, overflow: "hidden" }} />;
}
